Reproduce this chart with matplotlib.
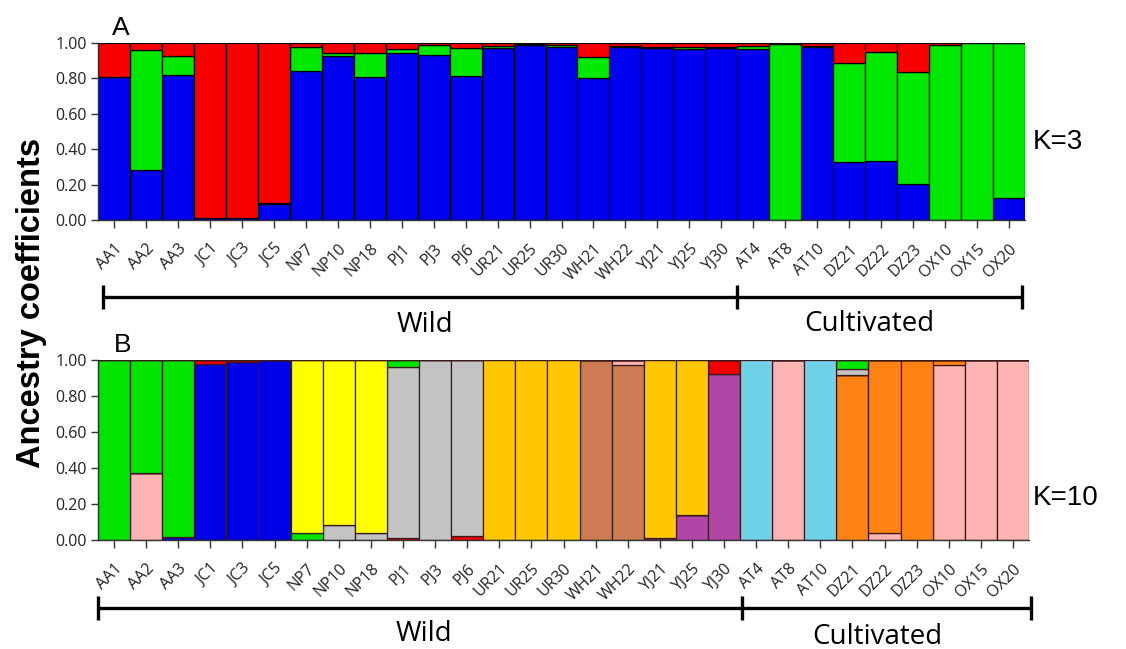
import numpy as np
import matplotlib
matplotlib.use("Agg")
import matplotlib.pyplot as plt
import matplotlib.transforms as mtransforms

# ---------------- data ----------------
samples = ["AA1", "AA2", "AA3", "JC1", "JC3", "JC5", "NP7", "NP10", "NP18",
           "PJ1", "PJ3", "PJ6", "UR21", "UR25", "UR30", "WH21", "WH22",
           "YJ21", "YJ25", "YJ30", "AT4", "AT8", "AT10", "DZ21", "DZ22",
           "DZ23", "OX10", "OX15", "OX20"]
n_wild = 20
groups = ["Wild", "Cultivated"]
y_ticks = [0.0, 0.2, 0.4, 0.6, 0.8, 1.0]

# K=3 (stacked bottom -> top: blue, green, red)
k3_blue = [0.81, 0.28, 0.82, 0.01, 0.01, 0.09, 0.84, 0.925, 0.81, 0.945,
           0.935, 0.815, 0.972, 0.988, 0.977, 0.80, 0.978, 0.972, 0.964, 0.972,
           0.964, 0.0, 0.975, 0.325, 0.333, 0.203, 0.0, 0.0, 0.122]
k3_green = [0.0, 0.68, 0.105, 0.0, 0.0, 0.005, 0.137, 0.02, 0.134, 0.02,
            0.055, 0.157, 0.012, 0.004, 0.01, 0.12, 0.004, 0.004, 0.016, 0.004,
            0.02, 0.995, 0.01, 0.564, 0.616, 0.633, 0.99, 1.0, 0.878]
k3_red = [0.19, 0.04, 0.075, 0.99, 0.99, 0.905, 0.023, 0.055, 0.056, 0.035,
          0.01, 0.028, 0.016, 0.008, 0.013, 0.08, 0.018, 0.024, 0.02, 0.024,
          0.016, 0.005, 0.015, 0.111, 0.051, 0.164, 0.01, 0.0, 0.0]

# K=10 clusters (stacked bottom -> top in this order)
k10_brown = [0, 0, 0, 0, 0, 0, 0, 0, 0, 0, 0, 0, 0, 0, 0, 1.0, 0.972, 0, 0, 0,
             0, 0, 0, 0, 0, 0, 0, 0, 0]
k10_pink = [0, 0.372, 0, 0, 0, 0, 0, 0, 0, 0, 0, 0, 0, 0, 0, 0, 0.028, 0, 0, 0,
            0, 1.0, 0, 0, 0.041, 0, 0.972, 1.0, 1.0]
k10_orange = [0, 0, 0, 0, 0, 0, 0, 0, 0, 0, 0, 0, 0, 0, 0, 0, 0, 0, 0, 0,
              0, 0, 0, 0.916, 0.959, 1.0, 0.028, 0, 0]
k10_purple = [0, 0, 0, 0, 0, 0, 0, 0, 0, 0, 0, 0, 0, 0, 0, 0, 0, 0.012, 0.14, 0.925,
              0, 0, 0, 0, 0, 0, 0, 0, 0]
k10_blue = [0, 0, 0.015, 0.98, 0.99, 1.0, 0, 0, 0, 0, 0, 0, 0, 0, 0, 0, 0, 0, 0, 0,
            0, 0, 0, 0, 0, 0, 0, 0, 0]
k10_red = [0, 0, 0, 0.02, 0.01, 0, 0, 0, 0, 0.012, 0, 0.025, 0, 0, 0, 0, 0, 0, 0, 0.075,
           0, 0, 0, 0, 0, 0, 0, 0, 0]
k10_gray = [0, 0, 0, 0, 0, 0, 0, 0.086, 0.041, 0.951, 1.0, 0.975, 0, 0, 0, 0, 0, 0, 0, 0,
            0, 0, 0, 0.032, 0, 0, 0, 0, 0]
k10_green = [1.0, 0.628, 0.985, 0, 0, 0, 0.041, 0, 0, 0.037, 0, 0, 0, 0, 0, 0, 0, 0, 0, 0,
             0, 0, 0, 0.052, 0, 0, 0, 0, 0]
k10_yellow = [0, 0, 0, 0, 0, 0, 0.959, 0.914, 0.959, 0, 0, 0, 0, 0, 0, 0, 0, 0, 0, 0,
              0, 0, 0, 0, 0, 0, 0, 0, 0]
k10_gold = [0, 0, 0, 0, 0, 0, 0, 0, 0, 0, 0, 0, 1.0, 1.0, 1.0, 0, 0, 0.988, 0.86, 0,
            0, 0, 0, 0, 0, 0, 0, 0, 0]
k10_lightblue = [0, 0, 0, 0, 0, 0, 0, 0, 0, 0, 0, 0, 0, 0, 0, 0, 0, 0, 0, 0,
                 1.0, 0, 1.0, 0, 0, 0, 0, 0, 0]

# ---------------- style ----------------
W, H = 1126, 649
fig = plt.figure(figsize=(W / 100, H / 100), dpi=100)

k3_series = [(k3_blue, "#0000F0"), (k3_green, "#00E800"), (k3_red, "#F80000")]
k10_series = [(k10_brown, "#CC7B52"), (k10_pink, "#FFB4B4"), (k10_orange, "#FF8214"),
              (k10_purple, "#B246A6"), (k10_blue, "#0000E6"), (k10_red, "#F20000"),
              (k10_gray, "#C3C3C3"), (k10_green, "#00E400"), (k10_yellow, "#FFFF00"),
              (k10_gold, "#FFC800"), (k10_lightblue, "#70D2E8")]

tick_font = "Open Sans"


def draw_panel(ax, series, edge):
    x = np.arange(len(samples))
    bottom = np.zeros(len(samples))
    for vals, col in series:
        v = np.array(vals, dtype=float)
        ax.bar(x, v, bottom=bottom, width=1.0, color=col, edgecolor=edge,
               linewidth=0.9, zorder=2)
        bottom += v
    ax.set_xlim(-0.5, len(samples) - 0.5)
    ax.set_ylim(0, 1.0)
    ax.set_yticks(y_ticks)
    ax.set_yticklabels([f"{t:.2f}" for t in y_ticks], fontsize=11.5,
                       family=tick_font, color="#222222")
    ax.set_xticks(x)
    ax.set_xticklabels(samples, rotation=45, ha="right", va="top",
                       rotation_mode="anchor", fontsize=11.5, family=tick_font,
                       color="#222222")
    offset = mtransforms.ScaledTranslation(0.08, 0, fig.dpi_scale_trans)
    for lab in ax.get_xticklabels():
        lab.set_transform(lab.get_transform() + offset)
    ax.tick_params(axis="x", direction="out", length=6, width=1.0, pad=9,
                   color="#333333")
    ax.tick_params(axis="y", direction="out", length=5, width=1.0, pad=3,
                   color="#333333")
    for s in ["top", "right"]:
        ax.spines[s].set_visible(False)
    for s in ["left", "bottom"]:
        ax.spines[s].set_color("#333333")
        ax.spines[s].set_linewidth(1.0)


def draw_bracket(ax, yb, half, x_left, x_mid, x_right):
    tr = mtransforms.blended_transform_factory(ax.transData, ax.transAxes)
    kw = dict(color="black", lw=2.4, transform=tr, clip_on=False,
              solid_capstyle="butt")
    ax.plot([x_left, x_right], [yb, yb], **kw)
    for xv in (x_left, x_mid, x_right):
        ax.plot([xv, xv], [yb - half, yb + half], **kw)


axA = fig.add_axes([98 / W, 1 - 220 / H, (1025 - 98) / W, 177 / H])
draw_panel(axA, k3_series, "black")
draw_bracket(axA, -0.435, 0.068, -0.35, n_wild - 0.5, len(samples) - 0.6)

axB = fig.add_axes([98 / W, 1 - 540 / H, (1029 - 98) / W, 180 / H])
draw_panel(axB, k10_series, "#3a1a1a")
draw_bracket(axB, -0.378, 0.069, -0.5, n_wild - 0.45, len(samples) - 0.45)

# group labels
fig.text(425 / W, 1 - 325 / H, groups[0], ha="center", va="center",
         fontsize=20, family=tick_font)
fig.text(869 / W, 1 - 324 / H, groups[1], ha="center", va="center",
         fontsize=20, family=tick_font)
fig.text(424 / W, 1 - 634 / H, groups[0], ha="center", va="center",
         fontsize=20, family=tick_font)
fig.text(877 / W, 1 - 637 / H, groups[1], ha="center", va="center",
         fontsize=20, family=tick_font)

# panel letters and K labels
fig.text(112 / W, 1 - 35 / H, "A", ha="left", va="baseline", fontsize=19,
         family="Liberation Sans")
fig.text(114 / W, 1 - 352 / H, "B", ha="left", va="baseline", fontsize=19,
         family="Liberation Sans")
fig.text(1033 / W, 1 - 142 / H, "K=3", ha="left", va="center", fontsize=20,
         family="Liberation Sans")
fig.text(1033 / W, 1 - 498 / H, "K=10", ha="left", va="center", fontsize=20,
         family="Liberation Sans")

fig.text(32 / W, 1 - 303 / H, "Ancestry coefficients", rotation=90,
         ha="center", va="center", fontsize=23.5, fontweight="bold",
         family="Liberation Sans")

fig.savefig("out.png", dpi=100)
